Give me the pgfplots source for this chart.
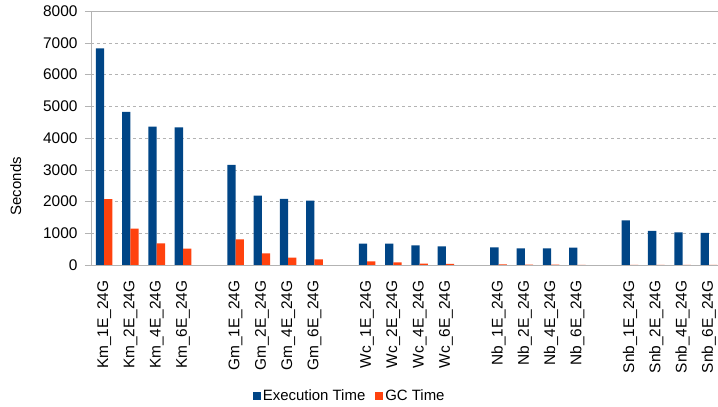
\documentclass[border=0pt]{standalone}
\usepackage{fontspec}
\setmainfont{Liberation Sans}
\usepackage{pgfplots}
\pgfplotsset{compat=1.18}
\definecolor{ser1}{HTML}{004586}
\definecolor{ser2}{HTML}{FF420E}
\definecolor{gridc}{HTML}{B3B3B3}
\begin{document}
\begin{tikzpicture}
\begin{axis}[
  scale only axis, width=631bp, height=254bp,
  xmin=-0.5, xmax=23.5, ymin=0, ymax=8000,
  enlargelimits=false,
  ybar=0pt, bar width=8.3bp,
  axis x line*=bottom, axis y line*=left,
  axis line style={-, draw=gridc},
  tick align=outside,
  major tick length=6bp, minor tick length=6bp,
  every tick/.style={draw=gridc},
  xtick={0,...,23},
  xtick style={draw=none},
  minor xtick={-0.5,0.5,...,23.5},
  xticklabels={Km\_1E\_24G,Km\_2E\_24G,Km\_4E\_24G,Km\_6E\_24G,{},
    Gm\_1E\_24G,Gm\_2E\_24G,Gm\_4E\_24G,Gm\_6E\_24G,{},
    Wc\_1E\_24G,Wc\_2E\_24G,Wc\_4E\_24G,Wc\_6E\_24G,{},
    Nb\_1E\_24G,Nb\_2E\_24G,Nb\_4E\_24G,Nb\_6E\_24G,{},
    Snb\_1E\_24G,Snb\_2E\_24G,Snb\_4E\_24G,Snb\_6E\_24G},
  xticklabel shift={6bp},
  x tick label style={rotate=90, anchor=east, font=\fontsize{15.5}{18}\selectfont},
  ytick={0,1000,...,8000},
  yticklabel shift={4bp},
  y tick label style={font=\fontsize{15.5}{18}\selectfont},
  /pgf/number format/assume math mode=true,
  /pgf/number format/1000 sep={},
  ymajorgrids, grid style={dashed, gridc},
  ylabel={Seconds},
  ylabel style={at={(axis description cs:-0.119,0.31)}, anchor=center, font=\fontsize{15}{18}\selectfont},
  legend style={at={(axis description cs:0.41,-0.516)}, anchor=center, draw=none,
    legend columns=2, font=\fontsize{15}{18}\selectfont,
    /tikz/every even column/.append style={column sep=8bp}},
  legend image code/.code={\fill[#1] (0bp,-4bp) rectangle (8bp,4bp);},
]
\addplot[fill=ser1, draw=none] coordinates {
 (0,6825) (1,4820) (2,4357) (3,4336)
 (5,3150) (6,2184) (7,2079) (8,2026)
 (10,672) (11,672) (12,619) (13,588)
 (15,556) (16,525) (17,525) (18,546)
 (20,1407) (21,1071) (22,1029) (23,1008)};
\addplot[fill=ser2, draw=none] coordinates {
 (0,2075) (1,1144) (2,682) (3,515)
 (5,808) (6,367) (7,231) (8,178)
 (10,115) (11,85) (12,42) (13,35)
 (15,20) (16,15) (17,10) (18,5)
 (20,5) (21,5) (22,5) (23,5)};
\legend{Execution Time, GC Time}
\draw[gridc] (rel axis cs:0,1) -- (rel axis cs:1,1);
\end{axis}
\pgfresetboundingbox
\path ([xshift=-91bp,yshift=-142bp]current axis.south west) rectangle ([xshift=-4bp,yshift=11bp]current axis.north east);
\end{tikzpicture}
\end{document}
